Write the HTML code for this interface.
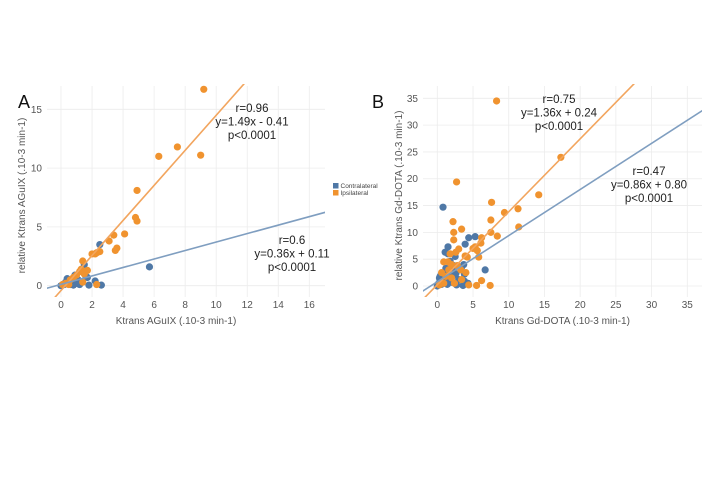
<!DOCTYPE html>
<html><head><meta charset="utf-8"><style>
html,body{margin:0;padding:0;background:#fff}
svg{display:block;font-family:"Liberation Sans",sans-serif}
</style></head><body>
<svg id="c" width="720" height="494" xmlns="http://www.w3.org/2000/svg"></svg>
<script>
const aOrangeX=[9.2,6.3,7.5,9.0,4.9,4.8,4.9,4.1,3.4,3.6,3.5,3.1,2.5,2.3,2.0,2.2,1.4,1.3,1.2,1.5,1.7,1.0,0.8,0.6,0.3,0.1,1.4,2.3,0.5];
const aOrangeY=[16.7,11.0,11.8,11.1,8.1,5.8,5.5,4.4,4.3,3.2,3.0,3.8,2.9,2.8,2.7,2.7,2.1,1.4,1.2,1.0,1.3,0.9,0.7,0.5,0.2,0.1,0.3,0.1,0.1];
const aBlueX=[2.5,5.7,1.5,2.2,2.6,1.8,1.6,1.1,0.9,0.7,0.5,0.3,0.2,0.0,1.2,0.8,0.4,1.0,1.7,0.6];
const aBlueY=[3.5,1.6,1.8,0.4,0.05,0.05,0.8,0.5,0.9,0.3,0.4,0.3,0.1,0.0,0.1,0.05,0.6,0.2,0.7,0.1];
const bOrangeX=[8.3,17.3,14.2,11.3,11.4,9.4,7.6,7.5,7.5,8.4,2.7,2.2,3.4,2.3,2.3,6.2,6.1,5.3,5.0,5.6,5.8,3.9,4.2,3.0,2.6,1.8,0.9,1.5,2.0,2.8,3.3,4.0,2.0,3.4,4.4,5.5,6.2,7.4,1.2,0.6,0.9,0.3,2.4,1.6];
const bOrangeY=[34.5,24.0,17.0,14.4,11.0,13.7,15.6,12.3,10.0,9.3,19.4,12.0,10.6,10.0,8.6,9.0,8.0,7.3,7.0,6.6,5.4,5.6,5.4,6.9,6.3,6.0,4.5,4.5,4.0,3.8,3.0,2.5,1.5,1.2,0.2,0.1,1.0,0.1,1.8,2.5,0.5,0.2,0.5,3.0];
const bBlueX=[0.8,4.4,5.3,3.9,1.5,1.1,1.5,2.5,1.8,3.7,3.4,1.2,2.1,6.7,2.6,3.8,3.8,4.3,3.6,2.7,0.3,0.5,0.7,0.2,0.1,1.0,1.4,1.8,2.2,0.4,0.6,1.3,2.0,0.9,1.6,3.0,0.0,2.3];
const bBlueY=[14.7,9.0,9.2,7.8,7.3,6.3,6.0,5.5,4.6,4.0,3.5,3.3,3.0,3.0,2.3,2.2,0.9,0.5,0.1,0.2,1.5,2.0,1.0,0.5,0.2,0.8,0.3,1.5,1.9,1.8,0.3,1.2,0.7,2.1,2.5,1.2,0.0,3.8];
const aXTicks=[0,2,4,6,8,10,12,14,16];
const aYTicks=[0,5,10,15];
const bXTicks=[0,5,10,15,20,25,30,35];
const bYTicks=[0,5,10,15,20,25,30,35];
const aFits=[[1.49,-0.41],[0.36,0.11]];
const bFits=[[1.36,0.24],[0.86,0.80]];

const NS="http://www.w3.org/2000/svg";
const svg=document.getElementById('c');
function mk(tag,at,parent){const e=document.createElementNS(NS,tag);for(const k in at)e.setAttribute(k,at[k]);(parent||svg).appendChild(e);return e;}
const OR="#f0932f",BL="#4f78a6",ORL="#f2a55e",BLL="#7f9ec0";

function panel(p){
  const g=mk('g',{});
  
  
  const sx=v=>p.px0+(v-p.x0)*(p.px1-p.px0)/(p.x1-p.x0);
  const sy=v=>p.py0+(v-p.y0)*(p.py1-p.py0)/(p.y1-p.y0);
  const L=p.L,R=p.R,T=p.T,B=p.B;
  // grid
  p.xt.forEach(t=>{const l=mk('line',{x1:sx(t),x2:sx(t),y1:T,y2:B,stroke:"#ececec","stroke-width":0.8},g);
    const tx=mk('text',{x:sx(t),y:B+11,"text-anchor":"middle","font-size":10,fill:"#555"},g);tx.textContent=t;});
  p.yt.forEach(t=>{const l=mk('line',{x1:L,x2:R,y1:sy(t),y2:sy(t),stroke:"#ececec","stroke-width":0.8},g);
    const tx=mk('text',{x:L-5,y:sy(t)+3.5,"text-anchor":"end","font-size":10,fill:"#555"},g);tx.textContent=t;});
  // points
  const dots=(xs,ys,col,nm)=>xs.forEach((x,i)=>{const c=mk('circle',{cx:sx(x),cy:sy(ys[i]),r:3.6,fill:col},g);});
  dots(p.bx,p.by,BL,'contralateral-point');
  dots(p.ox,p.oy,OR,'ipsilateral-point');
  // fit lines clipped
  const cid='clip'+p.name;
  const cp=mk('clipPath',{id:cid},g);mk('rect',{x:L,y:T-2,width:R-L,height:B-T+2},cp);
  const line=(f,col,nm)=>{const l=mk('line',{x1:sx(p.x0l),y1:sy(f[0]*p.x0l+f[1]),x2:sx(p.x1l),y2:sy(f[0]*p.x1l+f[1]),stroke:col,"stroke-width":1.6,"clip-path":`url(#${cid})`},g);};
  line(p.fits[0],ORL,'ipsilateral-fit-line');
  line(p.fits[1],BLL,'contralateral-fit-line');
  // annotations
  const ann=(x,y,lines,nm)=>{const t=mk('text',{x:x,y:y,"text-anchor":"middle","font-size":11.5,fill:"#222"},g);
    lines.forEach((s,i)=>{const ts=mk('tspan',{x:x,dy:i?13.5:0},t);ts.textContent=s;});};
  ann(p.a1[0],p.a1[1],p.a1t,'ipsilateral-stats');
  ann(p.a2[0],p.a2[1],p.a2t,'contralateral-stats');
  const xt=mk('text',{x:(L+R)/2+p.xtOff,y:B+27,"text-anchor":"middle","font-size":10,fill:"#555"},g);xt.textContent=p.xlab;
  const yx=p.ytx,yy=(T+B)/2+4;
  const yt=mk('text',{x:yx,y:yy,"text-anchor":"middle","font-size":10,fill:"#555",transform:`rotate(-90 ${yx} ${yy})`},g);yt.textContent=p.ylab;
  const pl=mk('text',{x:p.lab[0],y:p.lab[1],"font-size":18,fill:"#111"},g);pl.textContent=p.labt;
}

panel({name:'panel-a',L:47,R:325,T:86,B:297,px0:61,px1:309.3,x0:0,x1:16,py0:285.7,py1:109.3,y0:0,y1:15,
  xt:aXTicks,yt:aYTicks,ox:aOrangeX,oy:aOrangeY,bx:aBlueX,by:aBlueY,fits:aFits,x0l:-1,x1l:17.5,
  a1:[252,112],a1t:['r=0.96','y=1.49x - 0.41','p<0.0001'],a2:[292,244],a2t:['r=0.6','y=0.36x + 0.11','p<0.0001'],
  xlab:'Ktrans AGuIX (.10-3 min-1)',xtOff:-10,ylab:'relative Ktrans AGuIX (.10-3 min-1)',ytx:25,lab:[18,108],labt:'A'});
panel({name:'panel-b',L:423,R:702,T:86,B:297,px0:437.3,px1:687.3,x0:0,x1:35,py0:286,py1:98.3,y0:0,y1:35,
  xt:bXTicks,yt:bYTicks,ox:bOrangeX,oy:bOrangeY,bx:bBlueX,by:bBlueY,fits:bFits,x0l:-3,x1l:38,
  a1:[559,103],a1t:['r=0.75','y=1.36x + 0.24','p<0.0001'],a2:[649,175],a2t:['r=0.47','y=0.86x + 0.80','p<0.0001'],
  xlab:'Ktrans Gd-DOTA (.10-3 min-1)',xtOff:0,ylab:'relative Ktrans Gd-DOTA (.10-3 min-1)',ytx:402,lab:[372,108],labt:'B'});

// legend
const lg=mk('g',{});
[['Contralateral',BL,183],['Ipsilateral',OR,190]].forEach(([n,c,y])=>{
  const e=mk('g',{},lg);
  mk('rect',{x:333,y:y,width:5.5,height:5.5,fill:c},e);
  const t=mk('text',{x:340.5,y:y+5,"font-size":6.5,fill:"#444"},e);t.textContent=n;});
</script>
</body></html>
